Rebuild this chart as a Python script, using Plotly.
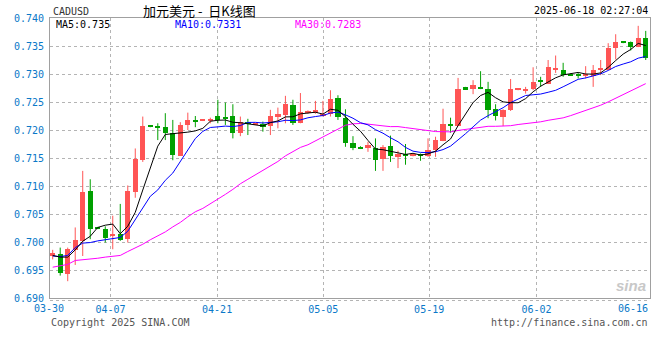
import plotly.graph_objects as go

# ---------------- data ----------------
tick_labels = ["03-30", "04-07", "04-21", "05-05", "05-19", "06-02", "06-16"]

open_ = [0.6975, 0.6978, 0.6942, 0.6986, 0.7002, 0.7091, 0.7026, 0.7024, 0.7010, 0.7015,
         0.7006, 0.7089, 0.7146, 0.7207, 0.7207, 0.7206, 0.7194, 0.7154, 0.7209, 0.7218,
         0.7217, 0.7217, 0.7225, 0.7221, 0.7225, 0.7195, 0.7215, 0.7210, 0.7211, 0.7207,
         0.7223, 0.7227, 0.7245, 0.7213, 0.7231, 0.7230, 0.7226, 0.7229, 0.7257, 0.7222,
         0.7177, 0.7170, 0.7167, 0.7168, 0.7149, 0.7171, 0.7151, 0.7158, 0.7155, 0.7155,
         0.7154, 0.7164, 0.7181, 0.7210, 0.7208, 0.7276, 0.7273, 0.7275, 0.7274, 0.7238,
         0.7224, 0.7235, 0.7272, 0.7271, 0.7273, 0.7287, 0.7282, 0.7308, 0.7308, 0.7300,
         0.7300, 0.7297, 0.7296, 0.7308, 0.7308, 0.7347, 0.7357, 0.7357, 0.7349, 0.7364]
high = [0.6986, 0.6990, 0.6990, 0.7026, 0.7127, 0.7112, 0.7027, 0.7028, 0.7047, 0.7068,
        0.7101, 0.7167, 0.7224, 0.7208, 0.7212, 0.7230, 0.7218, 0.7214, 0.7231, 0.7225,
        0.7219, 0.7222, 0.7254, 0.7249, 0.7246, 0.7224, 0.7220, 0.7212, 0.7215, 0.7236,
        0.7240, 0.7261, 0.7254, 0.7266, 0.7235, 0.7252, 0.7252, 0.7271, 0.7262, 0.7237,
        0.7189, 0.7171, 0.7179, 0.7185, 0.7173, 0.7190, 0.7163, 0.7175, 0.7158, 0.7158,
        0.7185, 0.7188, 0.7238, 0.7222, 0.7293, 0.7277, 0.7289, 0.7305, 0.7286, 0.7246,
        0.7237, 0.7291, 0.7274, 0.7277, 0.7312, 0.7295, 0.7325, 0.7333, 0.7320, 0.7301,
        0.7302, 0.7314, 0.7316, 0.7325, 0.7355, 0.7371, 0.7358, 0.7358, 0.7386, 0.7377]
low = [0.6969, 0.6940, 0.6930, 0.6959, 0.6975, 0.7005, 0.7023, 0.6999, 0.6987, 0.7002,
       0.6999, 0.7079, 0.7143, 0.7205, 0.7182, 0.7182, 0.7146, 0.7154, 0.7200, 0.7205,
       0.7216, 0.7212, 0.7212, 0.7209, 0.7185, 0.7189, 0.7191, 0.7209, 0.7197, 0.7191,
       0.7203, 0.7212, 0.7209, 0.7212, 0.7229, 0.7229, 0.7224, 0.7224, 0.7218, 0.7170,
       0.7164, 0.7166, 0.7161, 0.7127, 0.7127, 0.7143, 0.7132, 0.7138, 0.7153, 0.7145,
       0.7152, 0.7152, 0.7180, 0.7195, 0.7207, 0.7272, 0.7264, 0.7273, 0.7221, 0.7217,
       0.7207, 0.7234, 0.7271, 0.7265, 0.7271, 0.7277, 0.7282, 0.7302, 0.7295, 0.7297,
       0.7292, 0.7292, 0.7277, 0.7298, 0.7307, 0.7326, 0.7355, 0.7342, 0.7348, 0.7325]
close = [0.6980, 0.6945, 0.6988, 0.7004, 0.7090, 0.7024, 0.7024, 0.7008, 0.7014, 0.7004,
         0.7091, 0.7148, 0.7207, 0.7206, 0.7204, 0.7195, 0.7155, 0.7209, 0.7218, 0.7215,
         0.7218, 0.7218, 0.7218, 0.7220, 0.7195, 0.7214, 0.7210, 0.7211, 0.7206, 0.7225,
         0.7229, 0.7246, 0.7212, 0.7232, 0.7233, 0.7236, 0.7229, 0.7255, 0.7223, 0.7176,
         0.7168, 0.7167, 0.7173, 0.7146, 0.7170, 0.7154, 0.7158, 0.7154, 0.7156, 0.7154,
         0.7165, 0.7182, 0.7211, 0.7208, 0.7273, 0.7273, 0.7280, 0.7274, 0.7236, 0.7225,
         0.7236, 0.7273, 0.7273, 0.7273, 0.7286, 0.7286, 0.7312, 0.7309, 0.7299, 0.7298,
         0.7296, 0.7298, 0.7308, 0.7310, 0.7347, 0.7357, 0.7356, 0.7349, 0.7364, 0.7328]

ma5 = [0.6976, 0.6973, 0.6973, 0.6986, 0.70014, 0.70102, 0.70260, 0.70300, 0.70320, 0.70148,
       0.70282, 0.70530, 0.70928, 0.71312, 0.71712, 0.71920, 0.71934, 0.71938, 0.71962, 0.71984,
       0.72030, 0.72156, 0.72174, 0.72178, 0.72138, 0.72130, 0.72114, 0.72100, 0.72072, 0.72132,
       0.72162, 0.72234, 0.72236, 0.72288, 0.72304, 0.72318, 0.72284, 0.72370, 0.72352, 0.72238,
       0.72102, 0.71978, 0.71814, 0.71660, 0.71648, 0.71620, 0.71602, 0.71564, 0.71584, 0.71552,
       0.71574, 0.71622, 0.71736, 0.71840, 0.72078, 0.72294, 0.72490, 0.72616, 0.72672, 0.72576,
       0.72502, 0.72488, 0.72486, 0.72560, 0.72682, 0.72782, 0.72860, 0.72932, 0.72984, 0.73008,
       0.73028, 0.73000, 0.72998, 0.73020, 0.73118, 0.73240, 0.73356, 0.73438, 0.73546, 0.73508]
ma10 = [0.6975, 0.6974, 0.6976, 0.6990, 0.6998, 0.6999, 0.7002, 0.7004, 0.7007,
        0.70081, 0.70192, 0.70395, 0.70614, 0.70816, 0.70930, 0.71101, 0.71232, 0.71433, 0.71637,
        0.71848, 0.71975, 0.72045, 0.72056, 0.72070, 0.72061, 0.72080, 0.72135, 0.72137, 0.72125,
        0.72135, 0.72146, 0.72174, 0.72168, 0.72180, 0.72218, 0.72240, 0.72259, 0.72303, 0.72320,
        0.72271, 0.72210, 0.72131, 0.72092, 0.72006, 0.71943, 0.71861, 0.71790, 0.71689, 0.71622,
        0.71600, 0.71597, 0.71612, 0.71650, 0.71712, 0.71815, 0.71934, 0.72056, 0.72176, 0.72256,
        0.72327, 0.72398, 0.72489, 0.72551, 0.72616, 0.72629, 0.72642, 0.72674, 0.72709, 0.72772,
        0.72845, 0.72905, 0.72930, 0.72965, 0.73002, 0.73063, 0.73134, 0.73178, 0.73218, 0.73283,
        0.73313]
ma30 = [0.6955, 0.6957, 0.6960, 0.6967, 0.6968, 0.6969, 0.6971, 0.6973, 0.6974, 0.6976,
        0.6983, 0.6989, 0.6996, 0.7004, 0.7011, 0.7018, 0.7027, 0.7035, 0.7045, 0.7054,
        0.7060, 0.7068, 0.7077, 0.7085, 0.7094, 0.7104, 0.7112, 0.7120, 0.7127,
        0.71355, 0.71438, 0.71538, 0.71613, 0.71689, 0.71736, 0.71807, 0.71875, 0.71958, 0.72027,
        0.72085, 0.72110, 0.72117, 0.72105, 0.72085, 0.72074, 0.72060, 0.72061, 0.72043, 0.72022,
        0.72002, 0.71984, 0.71972, 0.71970, 0.71966, 0.71992, 0.72012, 0.72035, 0.72056, 0.72066,
        0.72066, 0.72068, 0.72077, 0.72098, 0.72111, 0.72129, 0.72146, 0.72173, 0.72191, 0.72217,
        0.72257, 0.72300, 0.72344, 0.72389, 0.72443, 0.72502, 0.72570, 0.72636, 0.72701, 0.72770,
        0.72828]

# ---------------- styling ----------------
RED = "#ff5555"
GREEN = "#00a000"
LBL = "#0a78c8"
MONO = "DejaVu Sans Mono"
L, R, T, B, W, H = 50, 10, 18, 62, 660, 360
PW, PH = W - L - R, H - T - B


def px(x):
    return (x - L) / PW


def py(y):
    return (H - B - y) / PH


n = len(close)
xs = list(range(n))

fig = go.Figure()
for is_up, col in ((True, RED), (False, GREEN)):
    idx = [i for i in xs if (close[i] > open_[i]) == is_up]
    wx, wy = [], []
    for i in idx:
        wx += [i, i, None]
        wy += [low[i], high[i], None]
    fig.add_trace(go.Scatter(x=wx, y=wy, mode="lines", line=dict(color=col, width=1),
                             hoverinfo="skip"))
    fig.add_trace(go.Bar(x=idx,
                         base=[min(open_[i], close[i]) for i in idx],
                         y=[max(abs(close[i] - open_[i]), 0.00018) for i in idx],
                         width=0.7, marker=dict(color=col, line=dict(width=0))))

for series, col in ((ma30, "#ff00ff"), (ma10, "#0000ff"), (ma5, "#000000")):
    fig.add_trace(go.Scatter(x=xs, y=series, mode="lines", line=dict(color=col, width=1)))

yt = [0.690 + 0.005 * k for k in range(11)]
grid_pos = [7.7, 21.9, 36.05, 50.15, 64.45]

fig.update_layout(
    width=W, height=H, margin=dict(l=L, r=R, t=T, b=B),
    plot_bgcolor="white", paper_bgcolor="white", showlegend=False,
    xaxis=dict(range=[-0.36, 79.57], tickvals=grid_pos, ticktext=tick_labels[1:6],
               showgrid=True, gridcolor="#b4b4b4", griddash="dot", gridwidth=1,
               showline=True, linecolor="#a0a0a0", linewidth=1, mirror=True,
               zeroline=False, ticks="outside", ticklen=2, tickcolor="rgba(0,0,0,0)",
               tickfont=dict(family=MONO, size=10, color=LBL)),
    yaxis=dict(range=[0.690, 0.740], tickvals=yt, ticktext=["%.3f" % v for v in yt],
               showgrid=True, gridcolor="#b4b4b4", griddash="dot", gridwidth=1,
               showline=True, linecolor="#a0a0a0", linewidth=1, mirror=True,
               zeroline=False, ticks="outside", ticklen=3, tickcolor="rgba(0,0,0,0)",
               tickfont=dict(family=MONO, size=10, color=LBL)),
    bargap=0,
)


def ann(text, x, y, xanchor, color, size=10, family=MONO, yanchor="middle", height=None):
    fig.add_annotation(text=text, x=px(x), y=py(y), xref="paper", yref="paper",
                       xanchor=xanchor, yanchor=yanchor, showarrow=False, height=height,
                       font=dict(family=family, size=size, color=color))


ann("CADUSD", 51, 11.5, "left", "#333333", height=11)
ann("加元美元 - \u00a0日K线图", 141, 10, "left", "#000000", size=13,
    family="Noto Sans CJK SC", height=15)
ann("2025-06-18 02:27:04", 650, 10.5, "right", "#000000", height=11)
ann("MA5:0.735", 54, 24, "left", "#000000", height=11)
ann("MA10:0.7331", 173, 24, "left", "#0000ff", height=11)
ann("MA30:0.7283", 293, 24, "left", "#ff00ff", height=11)
ann(tick_labels[0], 49, 308, "center", LBL)
ann(tick_labels[6], 650, 308, "right", LBL)
ann("Copyright 2025 SINA.COM", 49, 322, "left", "#555555")
ann("http://finance.sina.com.cn", 650, 322, "right", "#555555")
ann("<b><i>sina</i></b>", 648, 296, "right", "#c8c8c8", size=15, family="Arial", yanchor="bottom")

fig.add_shape(type="line", xref="paper", yref="paper", x0=0, x1=1, y0=py(300.5), y1=py(300.5),
              line=dict(color="#b4b4b4", width=1, dash="dot"))

fig.write_html("out.html", config={"displayModeBar": False},
               post_script="document.body.style.margin='0';document.body.style.padding='0';")
